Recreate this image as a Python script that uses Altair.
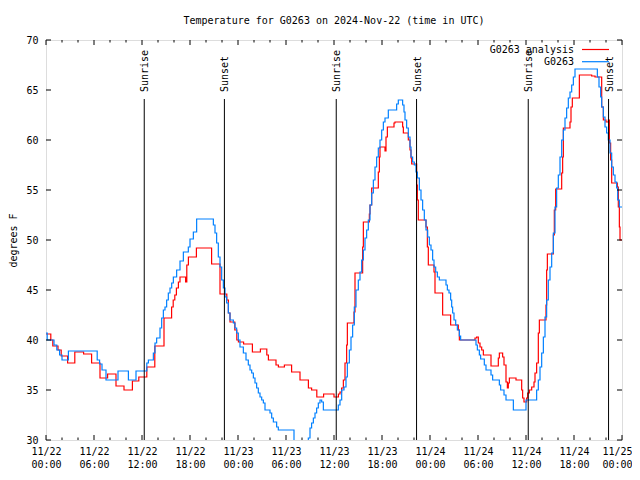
import altair as alt
import pandas as pd
from datetime import datetime, timedelta, timezone

# ---------------- data (hours since 2024-11-22 00:00 UTC, degrees F) ----------------
analysis_hours = [0, 0.6, 0.85, 1.5, 1.9, 2.7, 3.6, 4.7, 5.7, 6.75, 7.7, 8.75, 9.75, 10.8, 11.6, 12.6,
                  13.6, 14.75, 15.7, 15.9, 16.1, 16.3, 16.55, 16.75, 17.45, 17.6, 17.8, 18.8, 20.7, 21.75,
                  22.6, 22.8, 23.0, 23.6, 23.85, 24.05, 24.7, 25.8, 26.8, 27.6, 27.8, 28.75, 29.05, 29.8,
                  30.7, 31.75, 32.8, 33.2, 33.85, 34.7, 36.0, 36.55, 36.75, 36.95, 37.17, 37.375, 37.58,
                  37.67, 38.5, 38.625, 39.58, 39.67, 40.42, 40.5, 40.71, 41.54, 41.67, 41.75, 42.375, 42.5,
                  42.67, 43.5, 43.625, 44.58, 44.67, 45.29, 45.5, 45.625, 45.71, 46.33, 46.42, 46.54, 47.5,
                  47.67, 47.79, 48.5, 48.625, 49.58, 50.58, 51.54, 51.67, 53.625, 53.83, 54.04, 54.25, 54.46,
                  54.67, 55.625, 56.54, 56.67, 57.08, 57.25, 57.5, 57.67, 57.79, 57.92, 58.75, 59.46, 59.58,
                  59.75, 60.08, 60.21, 60.42, 60.71, 61.0, 61.125, 61.33, 61.54, 61.67, 62.5, 62.58, 62.67,
                  63.42, 63.54, 63.71, 64.46, 64.58, 64.67, 65.5, 65.625, 65.79, 66.67, 68.21, 68.625,
                  69.46, 69.67, 70.0, 70.29, 70.42, 70.58, 70.71, 71.42, 71.54, 71.67, 71.75, 72.0]
analysis_temps = [40.6, 40.0, 39.4, 39.0, 38.4, 37.7, 38.8, 38.6, 37.7, 36.2, 36.6, 35.4, 35.0, 35.9, 36.3, 37.3,
                  39.4, 42.2, 43.3, 44.0, 44.5, 45.2, 45.8, 46.3, 45.8, 47.5, 48.3, 49.2, 47.6, 44.6,
                  44.0, 42.7, 41.8, 41.0, 40.0, 39.8, 39.6, 38.8, 39.1, 38.5, 38.0, 37.5, 37.3, 37.5,
                  36.8, 36.0, 35.2, 35.0, 34.3, 34.6, 34.3, 34.6, 34.8, 35.2, 36.0, 37.7, 39.5,
                  41.7, 42.8, 46.7, 49.3, 51.8, 52.6, 53.5, 55.2, 56.8, 58.3, 59.3, 58.9, 60.3,
                  61.3, 61.7, 61.8, 61.3, 60.7, 60.0, 59.0, 58.2, 57.6, 55.5, 54.0, 52.0, 51.3,
                  49.3, 47.5, 46.8, 44.7, 42.5, 41.5, 41.0, 40.0, 40.2, 40.3, 39.7, 39.3, 39.0,
                  38.5, 37.4, 38.2, 38.7, 38.3, 37.5, 35.8, 35.2, 35.7, 36.2, 36.0, 35.0, 34.2,
                  33.8, 34.2, 34.7, 35.0, 35.3, 35.8, 36.7, 37.7, 40.7, 42.0, 43.5, 47.0, 48.6,
                  50.5, 53.0, 55.1, 56.7, 58.3, 61.2, 61.8, 63.3, 64.2, 66.5, 66.4, 66.3,
                  63.3, 62.0, 61.8, 62.0, 59.7, 58.0, 55.7, 55.3, 53.3, 51.3, 50.0, 50.0]

station_hours = [0, 0.15, 1.0, 1.35, 1.7, 2.0, 2.8, 6.4, 6.7, 7.0, 7.5, 9.0, 10.3, 11.25, 12.6, 12.8,
                 13.42, 13.625, 13.83, 14.25, 14.46, 14.67, 14.875, 15.08, 15.29, 15.5, 15.71, 15.92,
                 16.33, 16.75, 17.17, 17.79, 18.0, 18.42, 18.83, 20.92, 21.125, 21.33, 21.54, 21.75,
                 21.96, 22.17, 22.375, 22.58, 22.79, 23.0, 23.42, 23.625, 23.83, 24.04, 24.25, 24.67,
                 25.0, 25.29, 25.5, 25.71, 25.92, 26.125, 26.33, 26.54, 26.75, 26.96, 27.17, 27.375,
                 28.0, 28.21, 28.42, 28.83, 29.04, 31.0, 31.6, 32.2, 32.79, 33.0, 33.2, 33.42, 33.625,
                 33.83, 34.04, 34.25, 34.46, 34.67, 36.54, 36.75, 36.96, 37.25, 37.5, 37.67, 37.92,
                 38.125, 38.33, 38.54, 38.75, 39.04, 39.25, 39.46, 39.67, 39.875, 40.08, 40.29, 40.5,
                 40.71, 40.92, 41.125, 41.33, 41.54, 41.75, 41.96, 42.17, 42.375, 42.79, 43.83, 44.04,
                 44.58, 44.75, 44.875, 45.08, 45.29, 45.5, 45.625, 45.83, 46.04, 46.25, 46.42, 46.67,
                 46.875, 47.08, 47.29, 47.5, 47.71, 47.92, 48.125, 48.33, 48.5, 48.71, 48.92, 49.17,
                 50.0, 50.17, 50.375, 50.58, 50.71, 50.83, 51.0, 51.21, 51.42, 51.67, 51.83, 53.75,
                 53.92, 54.17, 54.33, 54.79, 55.0, 55.625, 55.83, 56.67, 56.83, 57.25, 57.5, 58.42,
                 60.0, 61.33, 61.54, 61.75, 61.96, 62.17, 62.375, 62.58, 62.79, 63.0, 63.21, 63.42,
                 63.625, 63.83, 64.04, 64.25, 64.46, 64.67, 64.875, 65.08, 65.29, 65.5, 65.71, 65.92,
                 66.125, 68.92, 69.125, 69.33, 69.46, 69.67, 69.875, 70.08, 70.29, 70.5, 70.71, 70.92,
                 71.125, 71.33, 71.46, 71.67, 72.0]
station_temps = [40.7, 40.0, 39.5, 39.0, 38.5, 38.0, 38.9, 38.0, 37.6, 37.0, 36.0, 36.9, 36.0, 36.9, 37.7, 38.0,
                 38.7, 39.7, 40.2, 41.2, 42.2, 43.0, 43.3, 44.0, 44.7, 45.2, 45.7, 46.3,
                 47.0, 47.9, 48.8, 49.3, 50.1, 50.8, 52.1, 51.5, 50.7, 49.7, 48.3, 47.3,
                 46.0, 45.2, 44.3, 43.7, 42.7, 42.0, 41.7, 41.2, 40.7, 40.0, 39.3, 38.7,
                 38.0, 37.5, 37.0, 36.7, 36.2, 35.7, 35.2, 34.7, 34.3, 34.0, 33.7, 33.0,
                 32.7, 32.2, 31.8, 31.3, 31.0, 29.6, 29.2, 29.5, 30.2, 31.2, 31.7, 32.2, 32.7,
                 33.2, 33.7, 34.0, 33.8, 33.0, 33.5, 34.0, 35.0, 35.3, 36.3, 37.7, 39.0,
                 40.3, 41.5, 43.3, 45.0, 46.0, 46.8, 48.0, 49.0, 50.2, 51.0, 52.0, 53.5,
                 54.7, 56.0, 57.3, 58.3, 59.2, 60.0, 61.0, 61.8, 62.2, 63.0, 63.6, 64.0,
                 63.5, 62.8, 62.0, 61.2, 60.3, 59.3, 58.3, 57.8, 57.5, 56.8, 56.2, 55.0,
                 54.0, 53.0, 52.0, 51.0, 50.3, 49.5, 49.0, 48.0, 47.3, 46.8, 46.3, 46.0,
                 45.5, 45.0, 44.7, 44.0, 43.3, 42.7, 42.0, 41.5, 41.0, 40.4, 40.0, 39.5,
                 39.0, 38.5, 38.1, 37.5, 37.0, 36.5, 36.0, 35.5, 35.0, 34.5, 34.0, 33.0,
                 34.0, 35.0, 36.0, 37.3, 38.7, 40.3, 42.3, 44.0, 46.0, 47.3, 48.7, 50.7,
                 53.3, 55.2, 56.5, 58.3, 60.0, 61.0, 62.2, 63.2, 64.2, 64.8, 65.5, 66.3,
                 67.1, 66.3, 65.3, 64.3, 63.3, 62.3, 61.3, 60.7, 60.0, 58.7, 57.3, 56.5,
                 55.8, 55.2, 54.0, 53.3, 53.3]

event_labels = ["Sunrise", "Sunset", "Sunrise", "Sunset", "Sunrise", "Sunset"]
event_hours = [12.28, 22.3, 36.28, 46.32, 60.28, 70.32]

series_names = ["G0263 analysis", "G0263"]
major_tick_hours = list(range(0, 73, 6))
minor_tick_hours = [h for h in range(0, 73, 2) if h % 6]
y_tick_values = [30, 35, 40, 45, 50, 55, 60, 65, 70]

TITLE = "Temperature for G0263 on 2024-Nov-22 (time in UTC)"
FONT = "DejaVu Sans Mono"
RED = "#ff0000"
BLUE = "#0080ff"

BASE = datetime(2024, 11, 22, tzinfo=timezone.utc)


def ts(h):
    return (BASE + timedelta(hours=h)).strftime("%Y-%m-%dT%H:%M:%SZ")


def ms(h):
    return int((BASE + timedelta(hours=h)).timestamp() * 1000)


df_an = pd.DataFrame({"time": [ts(h) for h in analysis_hours], "temp": analysis_temps})
df_st = pd.DataFrame({"time": [ts(h) for h in station_hours], "temp": station_temps})
df_ev = pd.DataFrame({"time": [ts(h) for h in event_hours], "label": event_labels})
df_major = pd.DataFrame({"time": [ts(h) for h in major_tick_hours]})
df_minor = pd.DataFrame({"time": [ts(h) for h in minor_tick_hours]})
df_yt = pd.DataFrame({"temp": y_tick_values})

W, H = 576, 400

xscale = alt.Scale(type="utc", domain=[ms(0), ms(72)])
yscale = alt.Scale(domain=[30, 70], nice=False, zero=False)

xaxis = alt.Axis(
    values=[ms(h) for h in major_tick_hours],
    labelExpr="[utcFormat(datum.value, '%m/%d'), utcFormat(datum.value, '%H:%M')]",
    ticks=False, domain=False, grid=False,
    labelFont=FONT, labelFontSize=10, labelColor="black",
    labelPadding=6, labelBaseline="top", labelLineHeight=13,
    labelFlush=False, labelOverlap=False, title=None,
    labelOffset={"condition": {"test": f"datum.value >= {ms(72)}", "value": -5}, "value": 0},
)
yaxis = alt.Axis(
    values=y_tick_values, ticks=False, domain=False, grid=False,
    labelFont=FONT, labelFontSize=10, labelColor="black", labelPadding=8,
    title="degrees F", titleFont=FONT, titleFontSize=10, titleFontWeight="normal",
    titleColor="black", titleX=-38, titleY=200, titleAngle=270,
    titleAlign="center", titleBaseline="top",
)

X = alt.X("time:T", scale=xscale, axis=xaxis)
Y = alt.Y("temp:Q", scale=yscale, axis=yaxis)

line_an = alt.Chart(df_an).mark_line(interpolate="step-after", color=RED, strokeWidth=1.2, clip=True).encode(x=X, y=Y)
line_st = alt.Chart(df_st).mark_line(interpolate="step-after", color=BLUE, strokeWidth=1.2, clip=True).encode(
    x=alt.X("time:T"), y=alt.Y("temp:Q"))

ev_rules = alt.Chart(df_ev).mark_rule(color="black", strokeWidth=1).encode(
    x="time:T", y=alt.value(59), y2=alt.value(H))
ev_text = alt.Chart(df_ev).mark_text(
    angle=270, align="left", baseline="middle", font=FONT, fontSize=10, color="black", dy=1
).encode(x="time:T", y=alt.value(52), text="label:N")

tick_major_b = alt.Chart(df_major).mark_rule(color="black").encode(x="time:T", y=alt.value(H - 5), y2=alt.value(H))
tick_major_t = alt.Chart(df_major).mark_rule(color="black").encode(x="time:T", y=alt.value(0), y2=alt.value(5))
tick_minor_b = alt.Chart(df_minor).mark_rule(color="black").encode(x="time:T", y=alt.value(H - 2.5), y2=alt.value(H))
tick_minor_t = alt.Chart(df_minor).mark_rule(color="black").encode(x="time:T", y=alt.value(0), y2=alt.value(2.5))
ytick_l = alt.Chart(df_yt).mark_rule(color="black").encode(y="temp:Q", x=alt.value(0), x2=alt.value(5))
ytick_r = alt.Chart(df_yt).mark_rule(color="black").encode(y="temp:Q", x=alt.value(W - 5), x2=alt.value(W))

leg = []
for i, (name, col) in enumerate(zip(series_names, [RED, BLUE])):
    d = pd.DataFrame({"label": [name]})
    yy = 9.5 + 12.2 * i
    leg.append(alt.Chart(d).mark_text(align="right", baseline="middle", font=FONT, fontSize=10, color="black").encode(
        text="label:N", x=alt.value(528), y=alt.value(yy)))
    leg.append(alt.Chart(d).mark_rule(color=col, strokeWidth=1.2).encode(
        x=alt.value(536), x2=alt.value(563), y=alt.value(yy)))

chart = alt.layer(
    line_an, line_st, ev_rules, ev_text,
    tick_major_b, tick_major_t, tick_minor_b, tick_minor_t, ytick_l, ytick_r,
    *leg
).properties(
    width=W, height=H,
    title=alt.TitleParams(TITLE, font=FONT, fontSize=10, fontWeight="normal", color="black",
                          anchor="middle", offset=9),
    autosize=alt.AutoSizeParams(type="none"),
    padding={"left": 38, "top": 32, "right": 10, "bottom": 40},
).configure_view(stroke="black", strokeWidth=1).configure(background="white")

chart.save("out.html", embed_options={"renderer": "svg", "actions": False})
